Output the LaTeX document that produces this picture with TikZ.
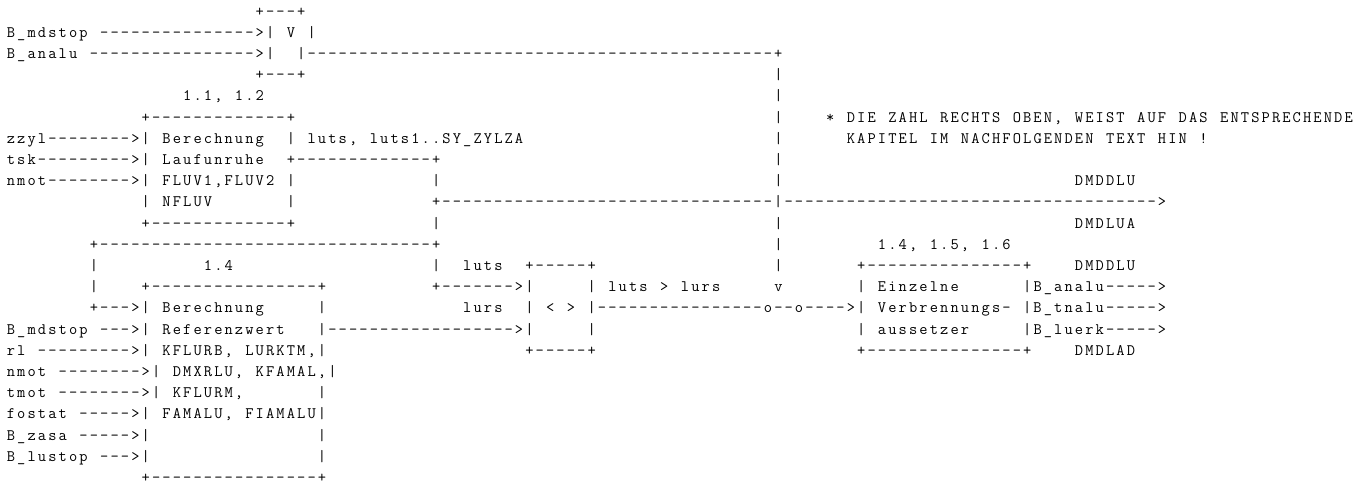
\documentclass[tikz,border=0pt]{standalone}
\usepackage{tikz}

\newlength\ascw
\setlength\ascw{7.7775pt}
\ExplSyntaxOn
\NewDocumentCommand\chars{m}{\str_map_inline:nn{#1}{\makebox[\ascw][c]{##1}}}
\ExplSyntaxOff

\begin{document}
\begin{tikzpicture}[x=7.7775pt,y=-15.9pt,
  ascii/.style={anchor=base west,inner sep=0pt,outer sep=0pt,font=\ttfamily\fontsize{12}{14}\selectfont}]
\useasboundingbox (-0.5593,0.2406) rectangle (131.263,23.024);
% Vergleicher V
\node[ascii] (vtop) at (24,1) {\chars{+---+}};
\node[ascii] (inmdstop) at (0,2) {\chars{B_mdstop --------------->| V |}};
\node[ascii] (inanalu) at (0,3) {\chars{B_analu ---------------->|}};
\node[ascii] (vout) at (28,3) {\chars{|---------------------------------------------+}};
\node[ascii] (vbot) at (24,4) {\chars{+---+}};
\node[ascii] (bus4) at (74,4) {\chars{|}};
% Berechnung Laufunruhe
\node[ascii] (kap1) at (17,5) {\chars{1.1, 1.2}};
\node[ascii] (bus5) at (74,5) {\chars{|}};
\node[ascii] (lutop) at (13,6) {\chars{+-------------+}};
\node[ascii] (bus6) at (74,6) {\chars{|}};
\node[ascii] (note1) at (79,6) {\chars{* DIE ZAHL RECHTS OBEN, WEIST AUF DAS ENTSPRECHENDE}};
\node[ascii] (inzzyl) at (0,7) {\chars{zzyl-------->| Berechnung}};
\node[ascii] (luts) at (27,7) {\chars{| luts, luts1..SY_ZYLZA}};
\node[ascii] (bus7) at (74,7) {\chars{|}};
\node[ascii] (note2) at (81,7) {\chars{KAPITEL IM NACHFOLGENDEN TEXT HIN !}};
\node[ascii] (intsk) at (0,8) {\chars{tsk--------->| Laufunruhe}};
\node[ascii] (luout) at (27,8) {\chars{+-------------+}};
\node[ascii] (bus8) at (74,8) {\chars{|}};
\node[ascii] (innmot) at (0,9) {\chars{nmot-------->| FLUV1,FLUV2 |}};
\node[ascii] (lu9) at (41,9) {\chars{|}};
\node[ascii] (bus9) at (74,9) {\chars{|}};
\node[ascii] (dmddlu1) at (103,9) {\chars{DMDDLU}};
\node[ascii] (nfluv) at (13,10) {\chars{| NFLUV}};
\node[ascii] (lu10) at (27,10) {\chars{|}};
\node[ascii] (outlu) at (41,10) {\chars{+--------------------------------|------------------------------------>}};
\node[ascii] (lubot) at (13,11) {\chars{+-------------+}};
\node[ascii] (lu11) at (41,11) {\chars{|}};
\node[ascii] (bus11) at (74,11) {\chars{|}};
\node[ascii] (dmdlua) at (103,11) {\chars{DMDLUA}};
% Rueckfuehrung und Referenzwert
\node[ascii] (loop) at (8,12) {\chars{+--------------------------------+}};
\node[ascii] (bus12) at (74,12) {\chars{|}};
\node[ascii] (kap3) at (84,12) {\chars{1.4, 1.5, 1.6}};
\node[ascii] (loop13) at (8,13) {\chars{|}};
\node[ascii] (kap2) at (19,13) {\chars{1.4}};
\node[ascii] (lu13) at (41,13) {\chars{|}};
\node[ascii] (lbluts) at (44,13) {\chars{luts}};
\node[ascii] (cmptop) at (50,13) {\chars{+-----+}};
\node[ascii] (bus13) at (74,13) {\chars{|}};
\node[ascii] (vatop) at (82,13) {\chars{+---------------+}};
\node[ascii] (dmddlu2) at (103,13) {\chars{DMDDLU}};
\node[ascii] (loop14) at (8,14) {\chars{|}};
\node[ascii] (reftop) at (13,14) {\chars{+----------------+}};
\node[ascii] (inluts) at (41,14) {\chars{+------->|}};
\node[ascii] (cond) at (56,14) {\chars{| luts > lurs}};
\node[ascii] (busv) at (74,14) {\chars{v}};
\node[ascii] (va14) at (82,14) {\chars{| Einzelne}};
\node[ascii] (outanalu) at (98,14) {\chars{|B_analu----->}};
\node[ascii] (inloop) at (8,15) {\chars{+--->| Berechnung}};
\node[ascii] (ref15) at (30,15) {\chars{|}};
\node[ascii] (lblurs) at (44,15) {\chars{lurs}};
\node[ascii] (cmp) at (50,15) {\chars{| < > |----------------o--o---->| Verbrennungs- |B_tnalu----->}};
\node[ascii] (inmdstop2) at (0,16) {\chars{B_mdstop --->| Referenzwert}};
\node[ascii] (inlurs) at (30,16) {\chars{|------------------>|}};
\node[ascii] (cmp16) at (56,16) {\chars{|}};
\node[ascii] (va16) at (82,16) {\chars{| aussetzer}};
\node[ascii] (outluerk) at (98,16) {\chars{|B_luerk----->}};
\node[ascii] (inrl) at (0,17) {\chars{rl --------->| KFLURB, LURKTM,|}};
\node[ascii] (cmpbot) at (50,17) {\chars{+-----+}};
\node[ascii] (vabot) at (82,17) {\chars{+---------------+}};
\node[ascii] (dmdlad) at (103,17) {\chars{DMDLAD}};
\node[ascii] (innmot2) at (0,18) {\chars{nmot -------->| DMXRLU, KFAMAL,|}};
\node[ascii] (intmot) at (0,19) {\chars{tmot -------->| KFLURM,}};
\node[ascii] (ref19) at (30,19) {\chars{|}};
\node[ascii] (infostat) at (0,20) {\chars{fostat ----->| FAMALU, FIAMALU|}};
\node[ascii] (inzasa) at (0,21) {\chars{B_zasa ----->|}};
\node[ascii] (ref21) at (30,21) {\chars{|}};
\node[ascii] (inlustop) at (0,22) {\chars{B_lustop --->|}};
\node[ascii] (ref22) at (30,22) {\chars{|}};
\node[ascii] (refbot) at (13,23) {\chars{+----------------+}};
\end{tikzpicture}
\end{document}
